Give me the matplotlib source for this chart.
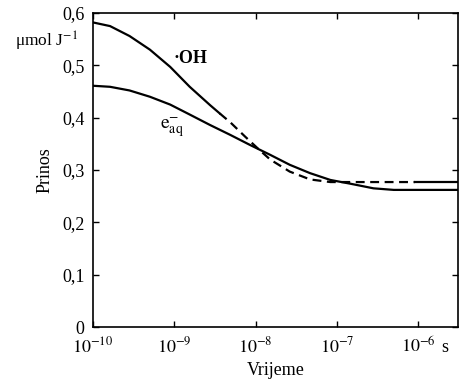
import matplotlib
matplotlib.use("Agg")
import matplotlib.pyplot as plt
import matplotlib.transforms as mtransforms
import numpy as np

plt.rcParams["font.family"] = ["Liberation Serif", "DejaVu Serif"]
plt.rcParams["mathtext.fontset"] = "stix"

# log10(time / s) and yield (umol/J)
oh_logt = [-10.0, -9.79, -9.55, -9.30, -9.05, -8.93, -8.81, -8.56, -8.44,
           -8.31, -8.13, -7.95, -7.82, -7.58, -7.33, -7.08, -6.84, -6.04,
           -5.5]
oh_val = [0.582, 0.575, 0.556, 0.530, 0.497, 0.478, 0.459, 0.424, 0.408,
          0.391, 0.364, 0.338, 0.320, 0.297, 0.282, 0.277, 0.277, 0.277,
          0.277]
oh_dash_from = 8    # index where the curve turns dashed
oh_dash_to = 17     # index where it turns solid again

e_logt = [-10.0, -9.79, -9.55, -9.30, -9.05, -8.81, -8.56, -8.31,
          -8.07, -7.82, -7.58, -7.33, -7.08, -6.84, -6.71, -6.55, -6.3, -5.5]
e_val = [0.461, 0.459, 0.452, 0.440, 0.425, 0.406, 0.386, 0.367,
         0.348, 0.329, 0.310, 0.294, 0.281, 0.274, 0.270, 0.265, 0.262, 0.262]

xticks = [1e-10, 1e-9, 1e-8, 1e-7, 1e-6]
xticklabels = [r"$10^{-10}$", r"$10^{-9}$", r"$10^{-8}$", r"$10^{-7}$", r"$10^{-6}$"]
yticks = [0, 0.1, 0.2, 0.3, 0.4, 0.5, 0.6]
yticklabels = ["0", "0,1", "0,2", "0,3", "0,4", "0,5", "0,6"]

oh_t = 10.0 ** np.array(oh_logt)
e_t = 10.0 ** np.array(e_logt)

fig = plt.figure(figsize=(4.61, 3.86), dpi=100)
ax = fig.add_axes([0.2017, 0.1528, 0.7918, 0.8135])

lw = 1.6
ax.plot(oh_t[:oh_dash_from + 1], oh_val[:oh_dash_from + 1], "k-", lw=lw)
ax.plot(oh_t[oh_dash_from:oh_dash_to + 1], oh_val[oh_dash_from:oh_dash_to + 1],
        "k--", lw=lw, dashes=(4, 2.5))
ax.plot(oh_t[oh_dash_to:], oh_val[oh_dash_to:], "k-", lw=lw)
ax.plot(e_t, e_val, "k-", lw=lw)

ax.set_xscale("log")
ax.set_xlim(1e-10, 10 ** -5.51)
ax.set_ylim(0, 0.6)
ax.set_xticks(xticks)
ax.set_xticklabels(xticklabels)
ax.xaxis.set_minor_locator(matplotlib.ticker.NullLocator())
ax.set_yticks(yticks)
ax.set_yticklabels(yticklabels)
ax.tick_params(direction="in", length=4, width=1, top=True, right=True,
               labelsize=13)
ax.tick_params(axis="x", pad=7)
ax.tick_params(axis="y", pad=6)
for s in ax.spines.values():
    s.set_linewidth(1.2)

ax.text(10 ** -8.8, 0.513, "·OH", fontsize=13, fontweight="bold",
        ha="center", va="center")
ax.text(10 ** -9.03, 0.382, r"$\mathrm{e}^{-}_{\mathrm{aq}}$", fontsize=14,
        ha="center", va="center")

trans = mtransforms.blended_transform_factory(ax.transAxes, ax.transData)
ax.text(-0.04, 0.545, "μmol J$^{-1}$", transform=trans, fontsize=12.5,
        ha="right", va="center")
ax.text(0.955, -0.08, "s", transform=ax.transAxes, fontsize=13,
        ha="left", va="baseline")

ax.set_ylabel("Prinos", fontsize=13, labelpad=6)
ax.set_xlabel("Vrijeme", fontsize=13, labelpad=4)

fig.savefig("out.png", dpi=100)
